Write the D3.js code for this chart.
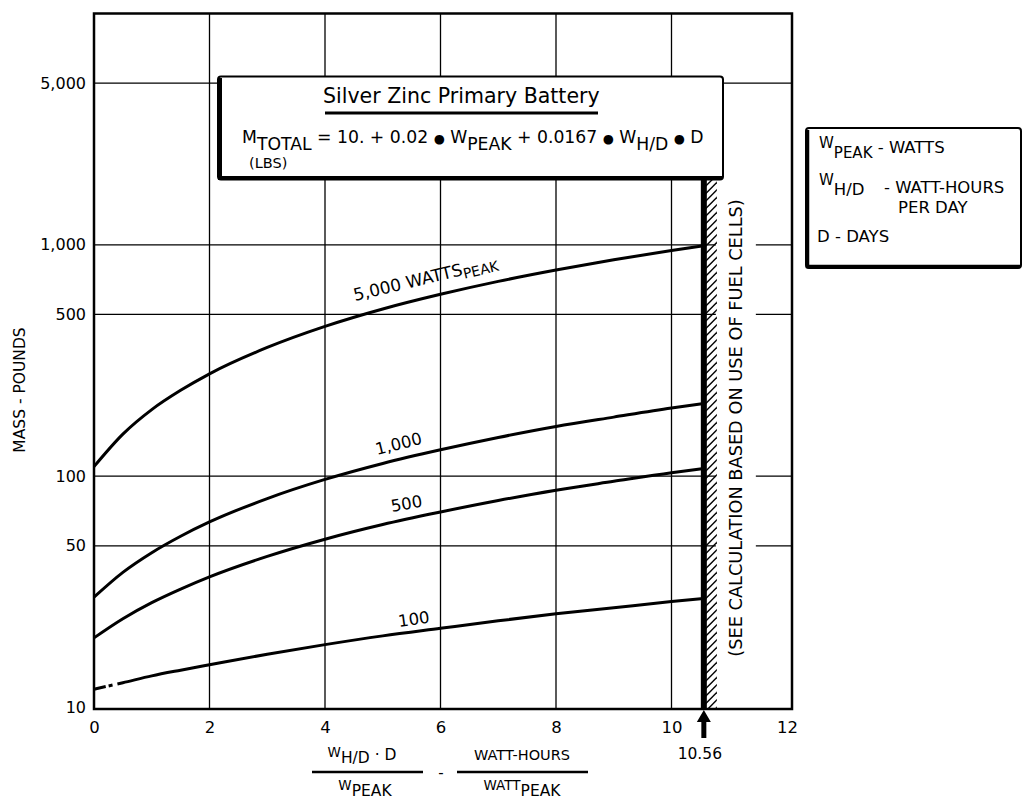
<!DOCTYPE html>
<html><head><meta charset="utf-8">
<script src="https://cdn.jsdelivr.net/npm/d3@7"></script>
<style>
body{margin:0;background:#fff}
svg{display:block}
text{font-family:"DejaVu Sans",sans-serif;fill:#000}
</style>
</head><body>
<svg id="c" width="1023" height="805"></svg>
<script>
// ---------- data ----------
const xValues   = [0, 0.5, 1, 1.5, 2, 3, 4, 5, 6, 7, 8, 9, 10, 10.56];
const mass5000  = [110, 152, 194, 235, 277, 360, 444, 528, 611, 695, 778, 862, 945, 992];
const mass1000  = [30, 38.4, 46.7, 55, 63.4, 80, 96.8, 113.5, 130, 147, 164, 180, 197, 206];
const mass500   = [20, 24.2, 28.4, 32.5, 36.7, 45, 53.4, 61.8, 70, 78.5, 87, 95, 103.5, 108];
const mass100   = [12, 12.8, 13.7, 14.5, 15.3, 17, 18.7, 20.4, 22, 23.7, 25.4, 27, 28.7, 29.6];
const seriesNames = ["5,000", "1,000", "500", "100"];
const xTicks = [0, 2, 4, 6, 8, 10, 12];
const yTicks = [10, 50, 100, 500, 1000, 5000];
const yTickLabels = ["10", "50", "100", "500", "1,000", "5,000"];
const limitX = 10.56;
const limitLabel = "10.56";

// ---------- scales ----------
const svg = d3.select("#c");
const x = d3.scaleLinear().domain([0, 12]).range([94, 787]);
const y = d3.scaleLog().domain([10, 10000]).range([707.5, 13.5]);
const frameL = x(0), frameR = 792, frameT = y(10000), frameB = 709;

function rich(sel, parts) {
  let prev = 0;
  parts.forEach(p => {
    sel.append("tspan").text(p[0]).attr("dy", (p[1] - prev)).attr("font-size", p[2]);
    prev = p[1];
  });
  return sel;
}
function fit(g, tx, ty, w) {
  const b = g.node().getBBox();
  const k = w / b.width;
  g.attr("transform", `translate(${tx},${ty}) scale(${k})`);
}

// ---------- grid ----------
const grid = svg.append("g").attr("stroke", "#000").attr("stroke-width", 1.3);
grid.selectAll("line.v").data(xTicks.filter(d => d > 0 && d < 12)).join("line").attr("class", "v")
  .attr("x1", d => x(d)).attr("x2", d => x(d)).attr("y1", frameT).attr("y2", frameB);
grid.selectAll("line.h").data(yTicks.filter(d => d > 10)).join("line").attr("class", "h")
  .attr("x1", frameL).attr("x2", frameR).attr("y1", d => y(d)).attr("y2", d => y(d));

svg.append("rect").attr("x", x(limitX) + 12).attr("y", 186).attr("width", 40).attr("height", 518).attr("fill", "#fff");

svg.append("rect").attr("x", frameL).attr("y", frameT).attr("width", frameR - frameL).attr("height", frameB - frameT)
  .attr("fill", "none").attr("stroke", "#000").attr("stroke-width", 2.5);

// ---------- axes ----------
const yAxis = svg.append("g").attr("transform", `translate(${frameL},0)`)
  .call(d3.axisLeft(y).tickValues(yTicks).tickFormat((d, i) => yTickLabels[i]).tickSize(0).tickPadding(8));
yAxis.select(".domain").remove();
yAxis.selectAll("text").attr("font-size", 16).attr("font-family", "DejaVu Sans");

const xAxis = svg.append("g").attr("transform", `translate(0,${frameB})`)
  .call(d3.axisBottom(x).tickValues(xTicks).tickFormat(d3.format("d")).tickSize(0).tickPadding(12));
xAxis.select(".domain").remove();
xAxis.selectAll("text").attr("font-size", 16.5).attr("font-family", "DejaVu Sans");

svg.append("text").attr("transform", "translate(25,390) rotate(-90)").attr("text-anchor", "middle")
  .attr("font-size", 15.5).text("MASS - POUNDS");

// ---------- curves ----------
const series = [mass5000, mass1000, mass500, mass100];
const line = d3.line().x((d, i) => x(xValues[i])).y(d => y(d)).curve(d3.curveMonotoneX);
svg.selectAll("path.curve").data(series).join("path").attr("class", "curve")
  .attr("d", line).attr("fill", "none").attr("stroke", "#000").attr("stroke-width", 3)
  .attr("stroke-dasharray", (d, i) => i === 3 ? "12,3,4,5,3000" : null);

const labelSpec = [
  {px: 355, py: 301, a: -13.5},
  {px: 377, py: 455, a: -14},
  {px: 392, py: 512, a: -10},
  {px: 399, py: 627, a: -8}
];
labelSpec.forEach((s, i) => {
  const t = svg.append("text").attr("transform", `translate(${s.px},${s.py}) rotate(${s.a})`);
  if (i === 0) rich(t, [[seriesNames[0] + " WATTS", 0, 17], ["PEAK", 4, 14]]);
  else rich(t, [[seriesNames[i], 0, 16.5]]);
});

// ---------- limit line, hatch, arrow ----------
const lx = x(limitX);
const clip = svg.append("clipPath").attr("id", "hclip");
clip.append("rect").attr("x", lx).attr("y", 180).attr("width", 13).attr("height", frameB - 180);
svg.append("g").attr("clip-path", "url(#hclip)").selectAll("line").data(d3.range(174, 716, 7.5)).join("line")
  .attr("x1", lx + 1).attr("y1", d => d + 13).attr("x2", lx + 14).attr("y2", d => d)
  .attr("stroke", "#000").attr("stroke-width", 1.4);
svg.append("line").attr("x1", lx).attr("x2", lx).attr("y1", 178).attr("y2", frameB)
  .attr("stroke", "#000").attr("stroke-width", 6);
svg.append("path").attr("d", `M${lx},${frameB + 1} L${lx - 7},${frameB + 13} L${lx - 2.5},${frameB + 13} L${lx - 2.5},738 L${lx + 2.5},738 L${lx + 2.5},${frameB + 13} L${lx + 7},${frameB + 13} Z`).attr("fill", "#000");
svg.append("text").attr("x", lx - 4).attr("y", 759).attr("text-anchor", "middle").attr("font-size", 15.5).text(limitLabel);

const note = svg.append("text").attr("text-anchor", "middle").attr("font-size", 16)
  .attr("transform", `translate(${lx + 38},428) rotate(-90)`)
  .text("(SEE CALCULATION BASED ON USE OF FUEL CELLS)");
{
  const w = note.node().getComputedTextLength();
  note.attr("font-size", 16 * 458 / w);
}

// ---------- title box ----------
const box = svg.append("g");
box.append("rect").attr("x", 218).attr("y", 76.5).attr("width", 505).attr("height", 103)
  .attr("rx", 3).attr("fill", "#fff").attr("stroke", "#000").attr("stroke-width", 2);
box.append("path").attr("d", "M220,78 L220,178 L722,178").attr("fill", "none").attr("stroke", "#000").attr("stroke-width", 4);

const title = svg.append("g");
title.append("text").attr("text-anchor", "start").attr("font-size", 20).text("Silver Zinc Primary Battery");
fit(title, 323, 102.5, 277);
svg.append("line").attr("x1", 325).attr("x2", 598).attr("y1", 113).attr("y2", 113).attr("stroke", "#000").attr("stroke-width", 3);

const formula = svg.append("g");
rich(formula.append("text"), [
  ["M", 0, 15], ["TOTAL", 6, 15], [" = 10. + 0.02 ", 0, 15], ["●", 0, 11], [" W", 0, 15], ["PEAK", 6, 15],
  [" + 0.0167 ", 0, 15], ["●", 0, 11], [" W", 0, 15], ["H/D", 6, 15], [" ", 0, 15], ["●", 0, 11], [" D", 0, 15]
]);
fit(formula, 242, 143, 462);
svg.append("text").attr("x", 249).attr("y", 168).attr("font-size", 14.5).text("(LBS)");

// ---------- legend box ----------
svg.append("rect").attr("x", 806).attr("y", 128).attr("width", 215).attr("height", 140)
  .attr("rx", 3).attr("fill", "#fff").attr("stroke", "#000").attr("stroke-width", 2);
svg.append("path").attr("d", "M807.5,130 L807.5,266.5 L1020,266.5").attr("fill", "none").attr("stroke", "#000").attr("stroke-width", 3.5);

rich(svg.append("text").attr("x", 819).attr("y", 153), [["W", -5, 15], ["PEAK", 5, 15], [" - WATTS", 0, 16.5]]);
rich(svg.append("text").attr("x", 819).attr("y", 192), [["W", -7, 15], ["H/D", 3, 16.5]]);
svg.append("text").attr("x", 884).attr("y", 193).attr("font-size", 16.5).text("- WATT-HOURS");
svg.append("text").attr("x", 898).attr("y", 213).attr("font-size", 16.5).text("PER DAY");
svg.append("text").attr("x", 817).attr("y", 242).attr("font-size", 16.5).text("D  -  DAYS");

// ---------- x axis title ----------
const num1 = svg.append("text").attr("x", 362).attr("y", 760).attr("text-anchor", "middle");
rich(num1, [["W", -3, 13.5], ["H/D", 3, 15.5], [" · D", 0, 15.5]]);
svg.append("line").attr("x1", 312).attr("x2", 423).attr("y1", 772).attr("y2", 772).attr("stroke", "#000").attr("stroke-width", 2.5);
const den1 = svg.append("text").attr("x", 365).attr("y", 793).attr("text-anchor", "middle");
rich(den1, [["W", -3, 13.5], ["PEAK", 3, 15.5]]);
svg.append("text").attr("x", 441).attr("y", 778).attr("text-anchor", "middle").attr("font-size", 15).text("-");
svg.append("text").attr("x", 522).attr("y", 760).attr("text-anchor", "middle").attr("font-size", 14.5).text("WATT-HOURS");
svg.append("line").attr("x1", 457).attr("x2", 588).attr("y1", 772).attr("y2", 772).attr("stroke", "#000").attr("stroke-width", 2.5);
const den2 = svg.append("text").attr("x", 522).attr("y", 793).attr("text-anchor", "middle");
rich(den2, [["WATT", -3, 13.5], ["PEAK", 3, 15.5]]);
</script>
</body></html>
